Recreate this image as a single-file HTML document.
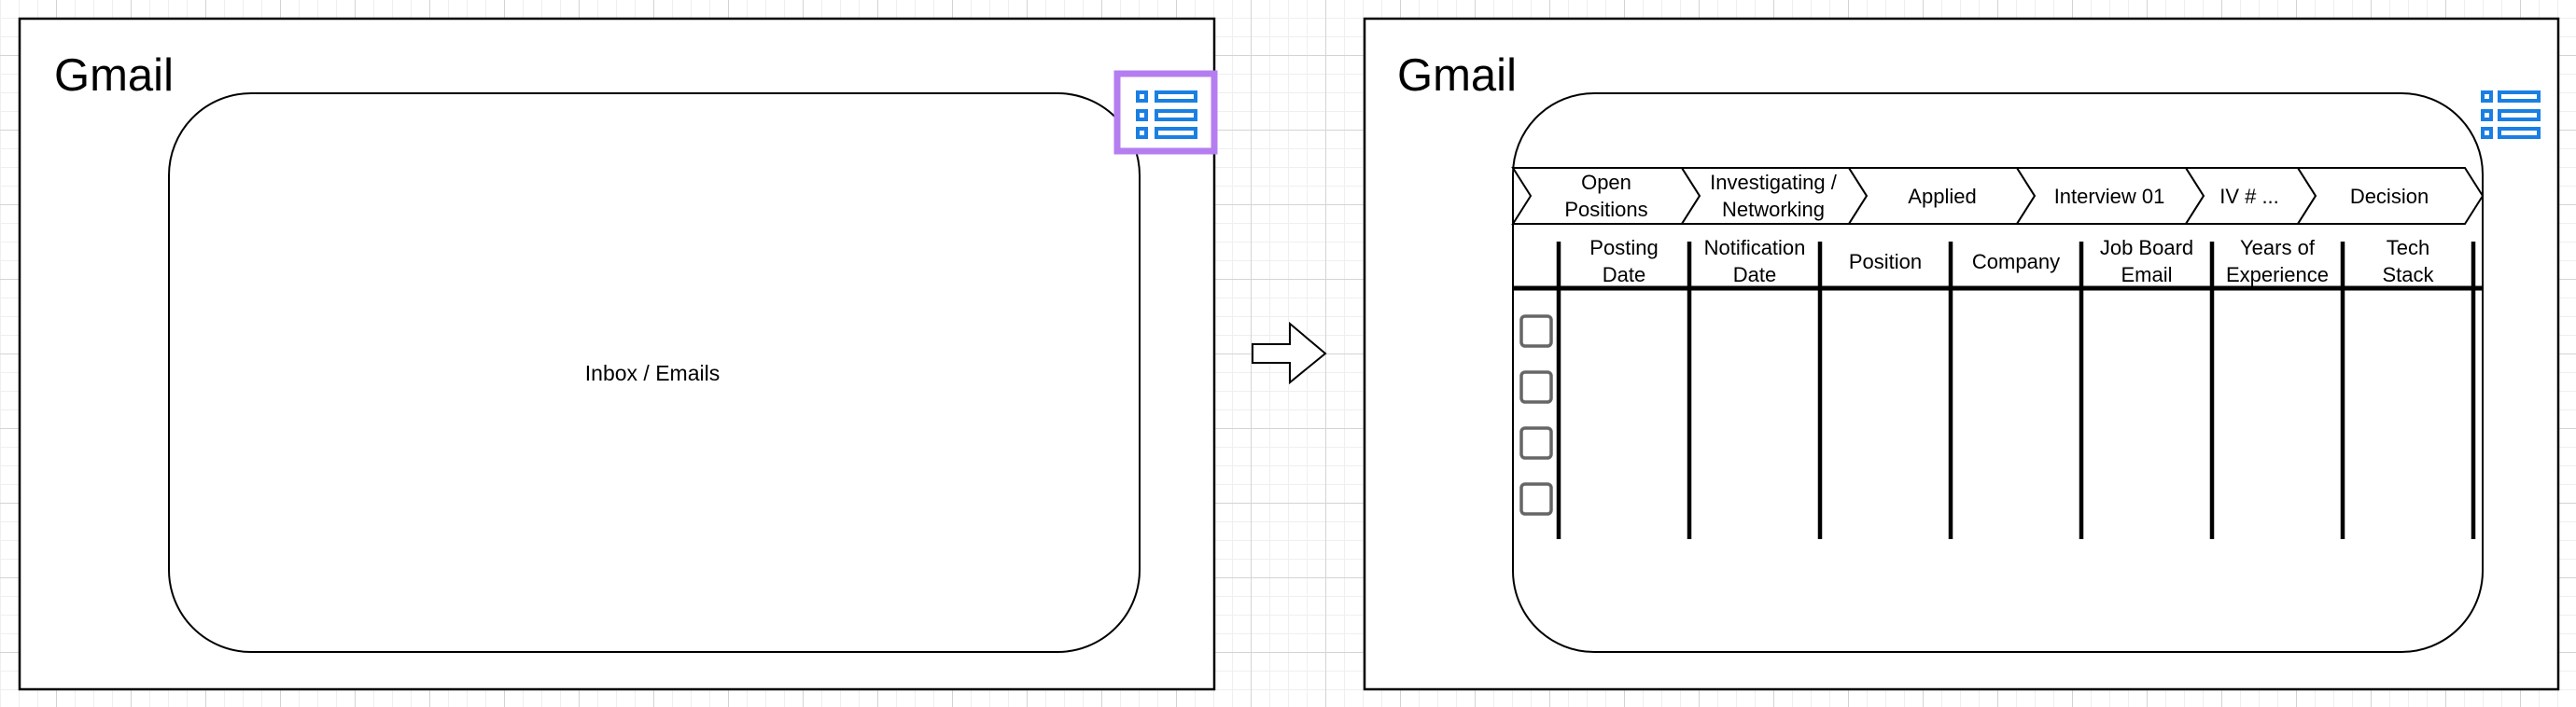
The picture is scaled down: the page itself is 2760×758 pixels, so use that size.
<!DOCTYPE html>
<html><head><meta charset="utf-8"><style>
html,body{margin:0;padding:0;}
body{width:2760px;height:758px;overflow:hidden;background-color:#fff;
background-image:
linear-gradient(#d4d4d4 1px,transparent 1px),
linear-gradient(90deg,#d4d4d4 1px,transparent 1px),
linear-gradient(#efefef 1px,transparent 1px),
linear-gradient(90deg,#efefef 1px,transparent 1px);
background-size:80px 80px,80px 80px,20px 20px,20px 20px;
background-position:0 59px,60px 0,0 -1px,0 0;}
svg{position:absolute;left:0;top:0;}
text{font-family:"Liberation Sans",Arial,sans-serif;fill:#000;}
</style></head><body>
<svg width="2760" height="758" viewBox="0 0 2760 758">
<!-- left frame -->
<rect x="21" y="20" width="1280" height="719" fill="#fff" stroke="#000" stroke-width="2.5"/>
<text x="58" y="97" font-size="49">Gmail</text>
<rect x="181" y="100" width="1040" height="599" rx="88" ry="88" fill="#fff" stroke="#000" stroke-width="2"/>
<text x="699" y="408" font-size="23" text-anchor="middle">Inbox / Emails</text>
<rect x="1197" y="79" width="104" height="83" fill="#fff" stroke="#b57ef0" stroke-width="7"/>
<g fill="#fff" stroke="#1a7fe3" stroke-width="4">
<rect x="1219" y="99" width="9" height="9"/><rect x="1239" y="99" width="42" height="9"/>
<rect x="1219" y="119" width="9" height="9"/><rect x="1239" y="119" width="42" height="9"/>
<rect x="1219" y="138" width="9" height="9"/><rect x="1239" y="138" width="42" height="9"/>
</g>
<!-- arrow -->
<polygon points="1342,369 1382,369 1382,347 1420,379 1382,410 1382,389 1342,389" fill="#fff" stroke="#000" stroke-width="2"/>
<!-- right frame -->
<rect x="1462" y="20" width="1279" height="719" fill="#fff" stroke="#000" stroke-width="2.5"/>
<text x="1497" y="97" font-size="49">Gmail</text>
<rect x="1621" y="100" width="1039" height="599" rx="87" ry="87" fill="#fff" stroke="#000" stroke-width="2"/>
<g fill="#fff" stroke="#1a7fe3" stroke-width="4">
<rect x="2660" y="99" width="9" height="9"/><rect x="2678" y="99" width="42" height="9"/>
<rect x="2660" y="119" width="9" height="9"/><rect x="2678" y="119" width="42" height="9"/>
<rect x="2660" y="138" width="9" height="9"/><rect x="2678" y="138" width="42" height="9"/>
</g>
<!-- chevrons -->
<g fill="#fff" stroke="#000" stroke-width="2">
<polygon points="1621,180 1802,180 1821,210 1802,240 1621,240 1640,210"/>
<polygon points="1802,180 1981,180 2000,210 1981,240 1802,240 1821,210"/>
<polygon points="1981,180 2161,180 2180,210 2161,240 1981,240 2000,210"/>
<polygon points="2161,180 2342,180 2361,210 2342,240 2161,240 2180,210"/>
<polygon points="2342,180 2462,180 2481,210 2462,240 2342,240 2361,210"/>
<polygon points="2462,180 2641,180 2660,210 2641,240 2462,240 2481,210"/>
</g>
<g font-size="22" text-anchor="middle">
<text x="1721" y="203">Open</text><text x="1721" y="232">Positions</text>
<text x="1900" y="203">Investigating /</text><text x="1900" y="232">Networking</text>
<text x="2081" y="218">Applied</text>
<text x="2260" y="218">Interview 01</text>
<text x="2410" y="218">IV # ...</text>
<text x="2560" y="218">Decision</text>
</g>
<!-- table -->
<g stroke="#000" stroke-width="4.5">
<line x1="1670" y1="259" x2="1670" y2="578"/>
<line x1="1810" y1="259" x2="1810" y2="578"/>
<line x1="1950" y1="259" x2="1950" y2="578"/>
<line x1="2090" y1="259" x2="2090" y2="578"/>
<line x1="2230" y1="259" x2="2230" y2="578"/>
<line x1="2370" y1="259" x2="2370" y2="578"/>
<line x1="2510" y1="259" x2="2510" y2="578"/>
<line x1="2650" y1="259" x2="2650" y2="578"/>
<line x1="1621" y1="309" x2="2660" y2="309" stroke-width="5"/>
</g>
<g font-size="22" text-anchor="middle">
<text x="1740" y="273">Posting</text><text x="1740" y="302">Date</text>
<text x="1880" y="273">Notification</text><text x="1880" y="302">Date</text>
<text x="2020" y="288">Position</text>
<text x="2160" y="288">Company</text>
<text x="2300" y="273">Job Board</text><text x="2300" y="302">Email</text>
<text x="2440" y="273">Years of</text><text x="2440" y="302">Experience</text>
<text x="2580" y="273">Tech</text><text x="2580" y="302">Stack</text>
</g>
<g fill="#fff" stroke="#666" stroke-width="3.5">
<rect x="1630" y="339" width="32" height="32" rx="4"/>
<rect x="1630" y="399" width="32" height="32" rx="4"/>
<rect x="1630" y="459" width="32" height="32" rx="4"/>
<rect x="1630" y="519" width="32" height="32" rx="4"/>
</g>
</svg>
</body></html>
